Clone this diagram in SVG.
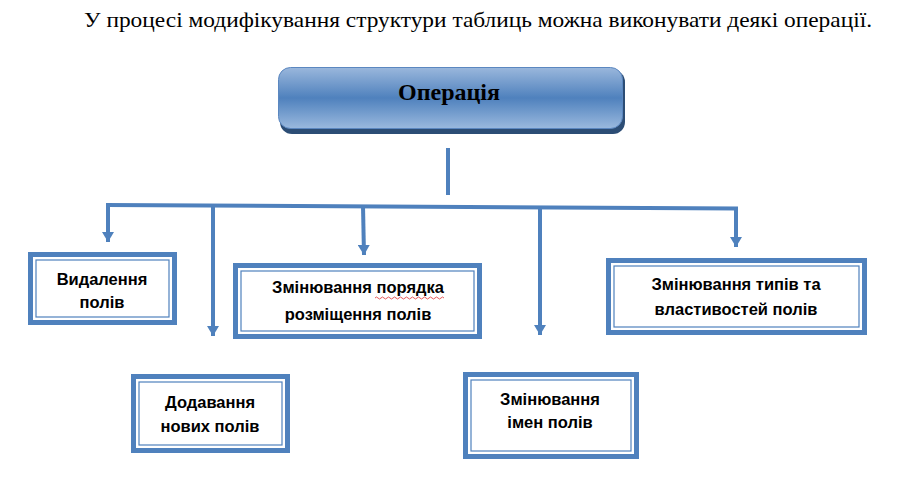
<svg xmlns="http://www.w3.org/2000/svg" width="905" height="484" viewBox="0 0 905 484">
<style>
.title{font-family:"Liberation Serif","Times New Roman",serif;font-size:22px;fill:#000}
.head{font-family:"Liberation Serif","Times New Roman",serif;font-size:24px;font-weight:bold;fill:#000}
.lbl{font-family:"Liberation Sans",Arial,sans-serif;font-size:16.5px;font-weight:bold;fill:#000}
.outer{fill:#fff;stroke:#4f81bd;stroke-width:5}
.inner{fill:none;stroke:#4f81bd;stroke-width:1.2}
.conn{fill:none;stroke:#4f81bd;stroke-width:4}
</style>
<defs>
<linearGradient id="g" x1="0" y1="0" x2="0" y2="1">
<stop offset="0" stop-color="#9ab7dc"/>
<stop offset="0.5" stop-color="#4f81bd"/>
<stop offset="1" stop-color="#9ab9de"/>
</linearGradient>
<marker id="ah" markerUnits="userSpaceOnUse" markerWidth="12" markerHeight="12" viewBox="0 0 12 12" refX="10" refY="6" orient="auto">
<path d="M0,0 L10,6 L0,12 Z" fill="#4f81bd"/>
</marker>
</defs>
<text class="title" x="84" y="27" textLength="788" lengthAdjust="spacingAndGlyphs">У процесі модифікування структури таблиць можна виконувати деякі операції.</text>
<g id="op">
<rect x="280" y="70" width="345" height="64" rx="12" fill="#2c4d75"/>
<rect x="278.5" y="67.5" width="344" height="61" rx="12" fill="url(#g)" stroke="#5b87c0" stroke-width="1"/>
<text class="head" x="449" y="100" text-anchor="middle">Операція</text>
</g>
<g id="connectors">
<line class="conn" x1="448" y1="148" x2="448" y2="195"/>
<polyline class="conn" points="106,205 738,208.5"/>
<line class="conn" x1="108" y1="205" x2="108" y2="242" marker-end="url(#ah)"/>
<line class="conn" x1="213" y1="206" x2="213" y2="336" marker-end="url(#ah)"/>
<line class="conn" x1="363" y1="206" x2="364" y2="255" marker-end="url(#ah)"/>
<line class="conn" x1="540" y1="207.5" x2="540" y2="335" marker-end="url(#ah)"/>
<line class="conn" x1="736" y1="208.5" x2="736" y2="247" marker-end="url(#ah)"/>
</g>
<g id="n1">
<rect class="outer" x="30.5" y="254.5" width="144" height="68"/>
<rect class="inner" x="36" y="260" width="133" height="57"/>
<text class="lbl" x="102" y="285" text-anchor="middle">Видалення</text>
<text class="lbl" x="102" y="308" text-anchor="middle">полів</text>
</g>
<g id="n2">
<rect class="outer" x="133.5" y="376.5" width="154" height="74"/>
<rect class="inner" x="139" y="382" width="143" height="63"/>
<text class="lbl" x="210" y="408" text-anchor="middle">Додавання</text>
<text class="lbl" x="210" y="432" text-anchor="middle">нових полів</text>
</g>
<g id="n3">
<rect class="outer" x="235.5" y="265.5" width="244" height="71"/>
<rect class="inner" x="241" y="271" width="233" height="60"/>
<text class="lbl" x="358" y="293" text-anchor="middle">Змінювання порядка</text>
<path d="M375,298 q1.5,-2 3,0 t3,0 t3,0 t3,0 t3,0 t3,0 t3,0 t3,0 t3,0 t3,0 t3,0 t3,0 t3,0 t3,0 t3,0 t3,0 t3,0 t3,0 t3,0 t3,0 t3,0 t3,0 t3,0" fill="none" stroke="#e03030" stroke-width="0.8"/>
<text class="lbl" x="358" y="320" text-anchor="middle">розміщення полів</text>
</g>
<g id="n4">
<rect class="outer" x="465.5" y="374.5" width="171" height="82"/>
<rect class="inner" x="471" y="380" width="160" height="71"/>
<text class="lbl" x="550" y="405" text-anchor="middle">Змінювання</text>
<text class="lbl" x="550" y="428" text-anchor="middle">імен полів</text>
</g>
<g id="n5">
<rect class="outer" x="608.5" y="260.5" width="256" height="72"/>
<rect class="inner" x="614" y="266" width="245" height="61"/>
<text class="lbl" x="736" y="290" text-anchor="middle">Змінювання типів та</text>
<text class="lbl" x="736" y="315" text-anchor="middle">властивостей полів</text>
</g>
</svg>
